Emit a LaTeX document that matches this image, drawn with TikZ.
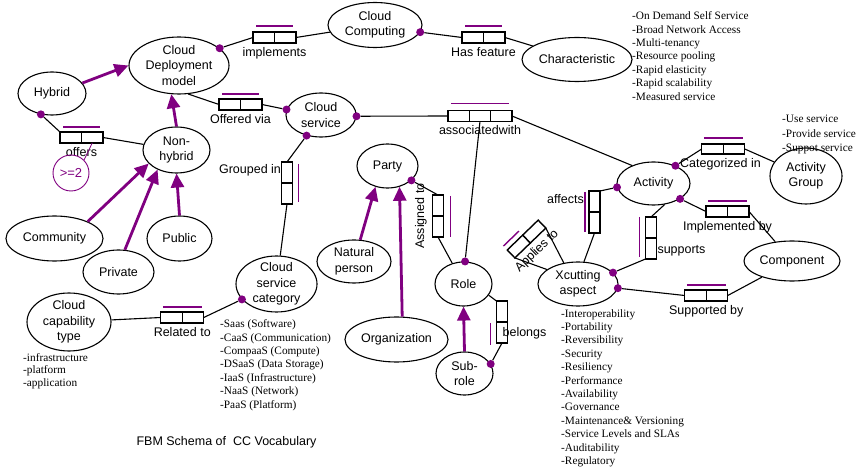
\documentclass[tikz,border=0pt]{standalone}
\usepackage{fontspec}
\setmainfont{Liberation Serif}
\setsansfont{Liberation Sans}
\usetikzlibrary{shapes.geometric, arrows.meta, positioning, calc}
\definecolor{ormpurple}{RGB}{128,0,128}
\tikzset{
  obj/.style={draw, ellipse, line width=1.1pt, inner sep=-20pt, align=center,
    font=\sffamily\fontsize{12.5}{15.5}\selectfont},
  cell/.style={draw, fill=white, rectangle, line width=1.4pt, inner sep=0pt, outer sep=0pt,
    minimum width=21.5pt, minimum height=11pt},
  vcell/.style={cell, minimum width=11pt, minimum height=21pt},
  rbar/.style={draw=ormpurple, line width=1.4pt},
  dot/.style={circle, fill=ormpurple, inner sep=0pt, minimum size=8pt},
  link/.style={line width=1.1pt},
  isa/.style={-{Triangle[length=14pt,width=13pt]}, line width=2.8pt, color=ormpurple},
  freq/.style={circle, draw=ormpurple, text=ormpurple, line width=0.9pt, minimum size=36pt,
    inner sep=0pt, font=\sffamily\fontsize{13}{15}\selectfont},
  lbl/.style={font=\sffamily\fontsize{12.5}{15}\selectfont, inner sep=1pt},
  notes/.style={font=\rmfamily\fontsize{11.3}{13.4}\selectfont, align=left, anchor=north west, inner sep=0pt},
}

\begin{document}
\begin{tikzpicture}[x=1pt, y=-1pt]
\useasboundingbox (0,0) rectangle (857,470);

% Object types
\node[obj, minimum width=94pt, minimum height=45pt] (cc) at (375,25) {Cloud\\Computing};
\node[obj, minimum width=100pt, minimum height=57pt] (cdm) at (179,65.5) {Cloud\\Deployment\\model};
\node[obj, minimum width=68pt, minimum height=43pt] (hyb) at (52,93.5) {Hybrid};
\node[obj, minimum width=67pt, minimum height=46pt] (nonh) at (176.5,150) {Non-\\hybrid};
\node[obj, minimum width=70pt, minimum height=44pt] (cs) at (321,115) {Cloud\\service};
\node[obj, minimum width=110pt, minimum height=44pt] (char) at (577,59.5) {Characteristic};
\node[obj, minimum width=73pt, minimum height=43pt] (act) at (653.5,183.5) {Activity};
\node[obj, minimum width=72pt, minimum height=56pt] (agrp) at (806,176) {Activity\\Group};
\node[obj, minimum width=80pt, minimum height=44pt] (xc) at (578,284) {Xcutting\\aspect};
\node[obj, minimum width=96pt, minimum height=40pt] (comp) at (792,261) {Component};
\node[obj, minimum width=57pt, minimum height=44pt] (role) at (463.5,284) {Role};
\node[obj, minimum width=57pt, minimum height=43pt] (subr) at (464.5,373.5) {Sub-\\role};
\node[obj, minimum width=103pt, minimum height=45pt] (org) at (396.5,339.5) {Organization};
\node[obj, minimum width=74pt, minimum height=43pt] (natp) at (354,261.5) {Natural\\person};
\node[obj, minimum width=61pt, minimum height=44pt] (party) at (387.5,166) {Party};
\node[obj, minimum width=81pt, minimum height=56pt] (csc) at (276.5,284) {Cloud\\service\\category};
\node[obj, minimum width=84pt, minimum height=58pt] (cct) at (69,322) {Cloud\\capability\\type};
\node[obj, minimum width=97pt, minimum height=45pt] (comm) at (54.5,238.5) {Community};
\node[obj, minimum width=71pt, minimum height=44pt] (priv) at (118.5,272) {Private};
\node[obj, minimum width=65pt, minimum height=45pt] (pub) at (179.5,238.5) {Public};

% Labels beside the vertical fact types
\node[lbl] at (250,170) {Grouped in};
\node[lbl, rotate=90] at (421,216) {Assigned to};
\node[lbl] at (565.5,199) {affects};
\node[lbl] at (681.5,250.5) {supports};

% Fact types
\node[cell] (implA) at (263.75,37.5) {};
\node[cell, right=0pt of implA] (implB) {};
\node[cell] (hasA) at (472.75,37.5) {};
\node[cell, right=0pt of hasA] (hasB) {};
\node[cell] (offA) at (229.75,104.5) {};
\node[cell, right=0pt of offA] (offB) {};
\node[cell] (offrA) at (70.75,137.5) {};
\node[cell, right=0pt of offrA] (offrB) {};
\node[cell, minimum width=21.33pt, minimum height=10.5pt] (assA) at (458.67,116) {};
\node[cell, minimum width=21.33pt, minimum height=10.5pt, right=0pt of assA] (assB) {};
\node[cell, minimum width=21.33pt, minimum height=10.5pt, right=0pt of assB] (assC) {};
\node[cell, minimum height=10pt] (catA) at (712.5,149) {};
\node[cell, minimum height=10pt, right=0pt of catA] (catB) {};
\node[cell] (impA) at (716.75,211.5) {};
\node[cell, right=0pt of impA] (impB) {};
\node[cell] (supbA) at (695.5,295.5) {};
\node[cell, right=0pt of supbA] (supbB) {};
\node[cell] (relA) at (171.5,317.5) {};
\node[cell, right=0pt of relA] (relB) {};
\node[cell, rotate=44] (appA) at (518.8,246.5) {};
\node[cell, rotate=44, right=0pt of appA] (appB) {};
\node[vcell] (grpA) at (287,172.5) {};
\node[vcell, below=0pt of grpA] (grpB) {};
\node[vcell] (asgA) at (438,205.5) {};
\node[vcell, below=0pt of asgA] (asgB) {};
\node[vcell] (affA) at (594.5,201.5) {};
\node[vcell, below=0pt of affA] (affB) {};
\node[vcell] (supA) at (651,227.5) {};
\node[vcell, below=0pt of supA] (supB) {};
\node[vcell] (belA) at (502,311.5) {};
\node[vcell, below=0pt of belA] (belB) {};

% Uniqueness bars
\draw[rbar] ([shift={(3pt,6pt)}]implA.north west) -- ([shift={(-3pt,6pt)}]implB.north east);
\draw[rbar] ([shift={(3pt,6pt)}]hasA.north west) -- ([shift={(-3pt,6pt)}]hasB.north east);
\draw[rbar] ([shift={(3pt,5pt)}]offA.north west) -- ([shift={(-3pt,5pt)}]offB.north east);
\draw[rbar] ([shift={(3pt,5pt)}]offrA.north west) -- ([shift={(-3pt,5pt)}]offrB.north east);
\draw[rbar] ([shift={(3pt,7pt)}]assA.north west) -- ([shift={(-3pt,7pt)}]assC.north east);
\draw[rbar] ([shift={(2pt,6pt)}]catA.north west) -- ([shift={(-2pt,6pt)}]catB.north east);
\draw[rbar] ([shift={(2pt,5pt)}]impA.north west) -- ([shift={(-2pt,5pt)}]impB.north east);
\draw[rbar] ([shift={(2pt,5pt)}]supbA.north west) -- ([shift={(-2pt,5pt)}]supbB.north east);
\draw[rbar] ([shift={(2pt,5pt)}]relA.north west) -- ([shift={(-2pt,5pt)}]relB.north east);
\draw[rbar] ($(appA.north west)!-5.5pt!(appA.south west)$) -- ($(appA.north east)!-5.5pt!(appA.south east)$);
\draw[rbar] ([shift={(6pt,-2pt)}]grpA.north east) -- ([shift={(6pt,2pt)}]grpB.south east);
\draw[rbar] ([shift={(7pt,-1pt)}]asgA.north east) -- ([shift={(7pt,0pt)}]asgB.south east);
\draw[rbar] ([shift={(-4pt,-1pt)}]affA.north west) -- ([shift={(-4pt,1pt)}]affB.south west);
\draw[rbar] ([shift={(-6pt,0pt)}]supA.north west) -- ([shift={(-6pt,2pt)}]supB.south west);
\draw[rbar] ([shift={(-6pt,-1pt)}]belB.north west) -- ([shift={(-6pt,-2pt)}]belB.south west);

% Labels of fact types
\node[lbl, below=3pt of implA.south east] {implements};
\node[lbl, below=3pt of hasA.south east] {Has feature};
\node[lbl, below=3pt of offA.south east] {Offered via};
\node[lbl, below=3pt of offrA.south east] {offers};
\node[lbl, below=3pt of assB.south] {associatedwith};
\node[lbl] at (720.5,164) {Categorized in};
\node[lbl, below=3pt of impA.south east] {Implemented by};
\node[lbl, below=3pt of supbA.south east] {Supported by};
\node[lbl, below=3pt of relA.south east] {Related to};
\node[lbl, rotate=44] at (537,251) {Applies to};
\node[lbl] at (524.5,333.5) {belongs};

% Role dots
\node[dot] (cdmdot) at (cdm.23) {};
\node[dot] (ccdot) at (cc.-9) {};
\node[dot] (hybdot) at (hyb.-118) {};
\node[dot] (csldot) at (cs.171) {};
\node[dot] (csrdot) at (cs.-2) {};
\node[dot] (csbdot) at (cs.-125) {};
\node[dot] (partydot) at (party.-31) {};
\node[dot] (roledot) at (role.86) {};
\node[dot] (subdot) at (subr.20) {};
\node[dot] (actldot) at (act.186) {};
\node[dot] (acttdot) at (act.39) {};
\node[dot] (actrdot) at (act.-30) {};
\node[dot] (xcudot) at (xc.18) {};
\node[dot] (xcldot) at (xc.-6) {};
\node[dot] (cscdot) at (csc.204) {};

% Role connectors
\draw[link] (cdmdot) -- (implA.west);
\draw[link] (implB.east) -- (cc);
\draw[link] (ccdot) -- (hasA.west);
\draw[link] (hasB.east) -- (char);
\draw[link] (cdm.-72) -- (offA.west);
\draw[link] (offB.east) -- (csldot);
\draw[link] (hybdot) -- (offrA.north west);
\draw[link] (offrB.east) -- (nonh);
\draw[link] (csbdot) -- (grpA.north);
\draw[link] (grpB.south) -- (csc);
\draw[link] (csrdot) -- (assA.west);
\draw[link] (assB.south) -- (roledot);
\draw[link] (assC.east) -- (act.140);
\draw[link] (partydot) -- (asgA.north);
\draw[link] (asgB.south) -- (role);
\draw[link] (role.-24) -- (belA.north west);
\draw[link] (belB.south) -- (subdot);
\draw[link] (actldot) -- (affA.north east);
\draw[link] (affB.south) -- (xc.75);
\draw[link] (act.-62) -- (supA.north);
\draw[link] (supB.south west) -- (xcudot);
\draw[link] (acttdot) -- (catA.west);
\draw[link] (catB.east) -- (agrp);
\draw[link] (actrdot) -- (impA.west);
\draw[link] (impB.east) -- (comp);
\draw[link] (xcldot) -- (supbA.west);
\draw[link] (supbB.east) -- (comp);
\draw[link] (cct) -- (relA.west);
\draw[link] (relB.east) -- (cscdot);
\draw[link] (appA.south west) -- (xc.155);
\draw[link] (appB.south east) -- (xc.124);

% Subtypes
\draw[isa] (hyb.19) -- (cdm.west);
\draw[isa] (nonh.north) -- (cdm.-105);
\draw[isa] (comm.27) -- (nonh.206);
\draw[isa] (priv.74) -- (nonh.226);
\draw[isa] (pub.north) -- (nonh.south);
\draw[isa] (natp.74) -- (party.240);
\draw[isa] (org.76) -- (party.-60);
\draw[isa] (subr.north) -- (role.south);

% Frequency constraint
\node[freq] (frq) at (71,173) {>=2};
\draw[ormpurple, line width=0.8pt] (frq.45) -- (offrB.south);

% Value lists
\node[notes] (charlist) at (632,11.5) {-On Demand Self Service\\-Broad Network Access\\-Multi-tenancy\\-Resource pooling\\-Rapid elasticity\\-Rapid scalability\\-Measured service};
\node[notes, font=\rmfamily\fontsize{11.3}{14.5}\selectfont] (agrplist) at (782,115) {-Use service\\-Provide service\\-Suppot service};
\node[notes, font=\rmfamily\fontsize{11.3}{12.8}\selectfont] (cctlist) at (23,353) {-infrastructure\\-platform\\-application};
\node[notes] (csclist) at (220,319.5) {-Saas (Software)\\-CaaS (Communication)\\-CompaaS (Compute)\\-DSaaS (Data Storage)\\-IaaS (Infrastructure)\\-NaaS (Network)\\-PaaS (Platform)};
\node[notes] (xclist) at (561,309) {-Interoperability\\-Portability\\-Reversibility\\-Security\\-Resiliency\\-Performance\\-Availability\\-Governance\\-Maintenance\& Versioning\\-Service Levels and SLAs\\-Auditability\\-Regulatory};

\node[lbl] (title) at (226.5,442) {FBM Schema of\ \ CC Vocabulary};
\end{tikzpicture}
\end{document}
